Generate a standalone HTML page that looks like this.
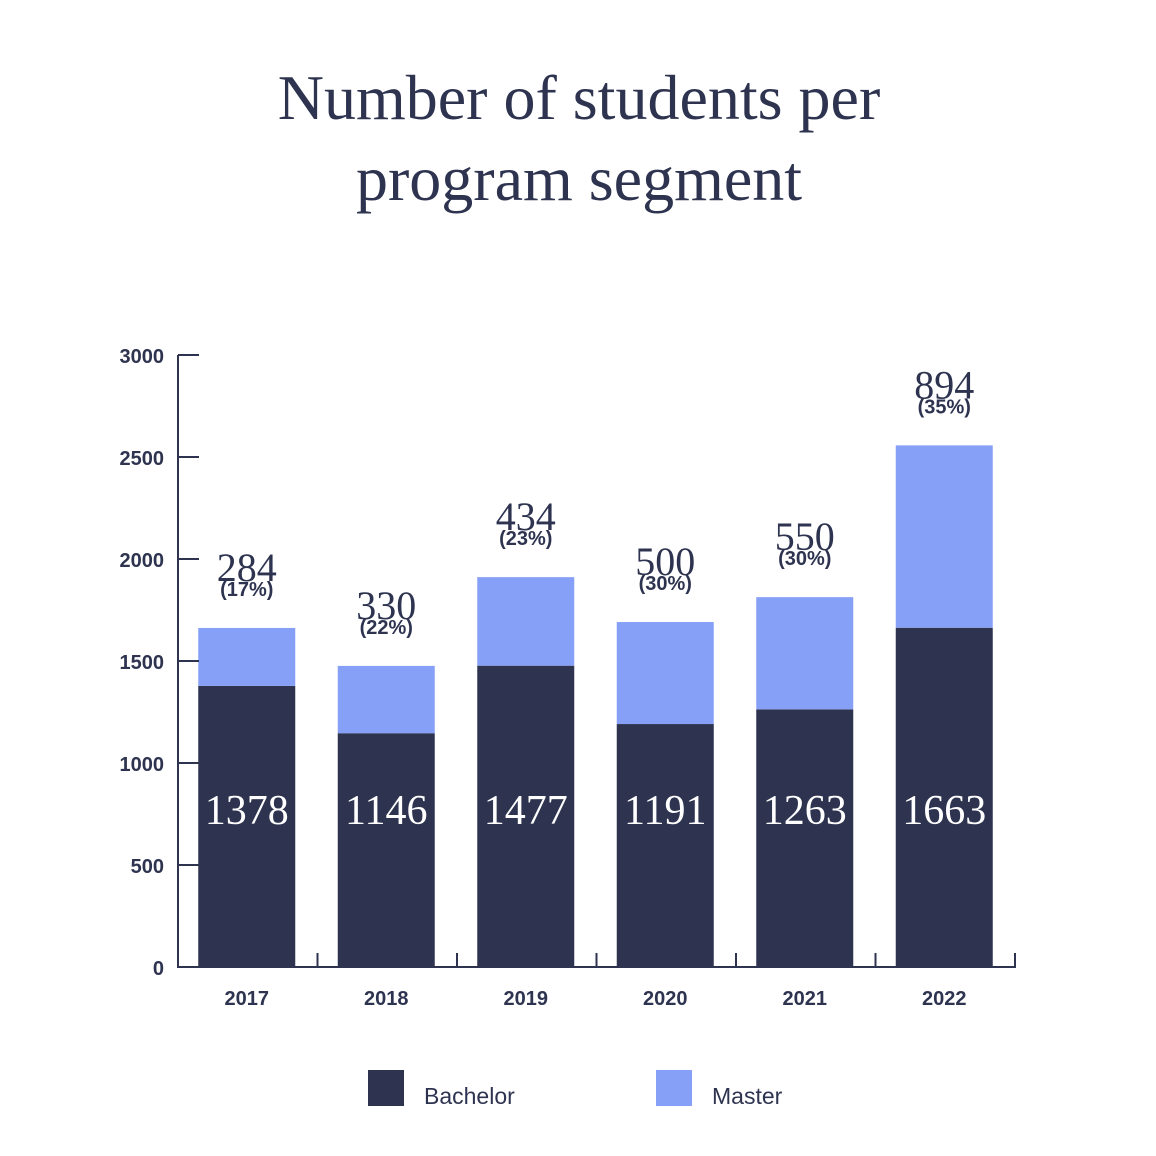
<!DOCTYPE html>
<html><head><meta charset="utf-8"><style>
body{margin:0;background:#fff}
svg{display:block}
.t{font-family:"Liberation Serif",serif;fill:#2e3450}
.s{font-family:"Liberation Sans",sans-serif;fill:#2e3450;font-weight:bold}
</style></head><body>
<svg id="c" width="1156" height="1156">
<text class="t" x="579" y="119" font-size="64" text-anchor="middle">Number of students per</text>
<text class="t" x="579" y="200" font-size="64" text-anchor="middle">program segment</text>
<g id="plot"></g>
<rect x="368" y="1070" width="36" height="36" fill="#2e3450"/>
<text x="424" y="1104" font-family="Liberation Sans,sans-serif" font-size="23" fill="#2e3450">Bachelor</text>
<rect x="656" y="1070" width="36" height="36" fill="#87a0f7"/>
<text x="712" y="1104" font-family="Liberation Sans,sans-serif" font-size="23" fill="#2e3450">Master</text>
</svg>
<script>
const categories=["2017","2018","2019","2020","2021","2022"];
const bachelor=[1378,1146,1477,1191,1263,1663];
const master=[284,330,434,500,550,894];
const masterPct=["(17%)","(22%)","(23%)","(30%)","(30%)","(35%)"];
const yTicks=[0,500,1000,1500,2000,2500,3000];
const NS="http://www.w3.org/2000/svg";
const g=document.getElementById("plot");
const x0=178,x1=1015,y0=967,yTop=355,yMax=3000;
const step=(x1-x0)/categories.length;
const bw=97;
const y=v=>y0-(v/yMax)*(y0-yTop);
const xc=i=>x0+step*(i+0.5)-1;
function mk(t,a){const e=document.createElementNS(NS,t);for(const k in a)e.setAttribute(k,a[k]);g.appendChild(e);return e;}
categories.forEach((c,i)=>{
  const b=mk("rect",{x:xc(i)-bw/2,y:y(bachelor[i]),width:bw,height:y0-y(bachelor[i]),fill:"#2e3450"});
  
  
  const m=mk("rect",{x:xc(i)-bw/2,y:y(bachelor[i]+master[i]),width:bw,height:y(bachelor[i])-y(bachelor[i]+master[i]),fill:"#87a0f7"});
  
  
  const bl=mk("text",{x:xc(i),y:824,"font-size":42,"text-anchor":"middle",class:"t",fill:"#fff",style:"fill:#fff"});
  bl.textContent=bachelor[i];
  
  
  const top=y(bachelor[i]+master[i]);
  const ml=mk("text",{x:xc(i),y:top-47,"font-size":40,"text-anchor":"middle",class:"t"});
  ml.textContent=master[i];
  
  
  const pl=mk("text",{x:xc(i),y:top-31+13,"font-size":20,"text-anchor":"middle",class:"s"});
  pl.setAttribute("y",top-32);
  pl.textContent=masterPct[i];
  
  
  const xl=mk("text",{x:xc(i),y:1005,"font-size":20,"text-anchor":"middle",class:"s"});
  xl.textContent=c;
  
  
});
for(let i=1;i<=categories.length;i++){
  const t=mk("line",{x1:x0+step*i,x2:x0+step*i,y1:y0,y2:y0-14,stroke:"#2e3450","stroke-width":2});
  
  
}
yTicks.forEach(v=>{
  const t=mk("line",{x1:x0,x2:x0+21,y1:y(v),y2:y(v),stroke:"#2e3450","stroke-width":2});
  
  
  const l=mk("text",{x:164,y:y(v)+8,"font-size":20,"text-anchor":"end",class:"s"});
  l.textContent=v;
  
  
});
const ya=mk("line",{x1:x0,x2:x0,y1:yTop,y2:y0,stroke:"#2e3450","stroke-width":2});


const xa=mk("line",{x1:x0-1,x2:x1+1,y1:y0,y2:y0,stroke:"#2e3450","stroke-width":2});


</script>
</body></html>
